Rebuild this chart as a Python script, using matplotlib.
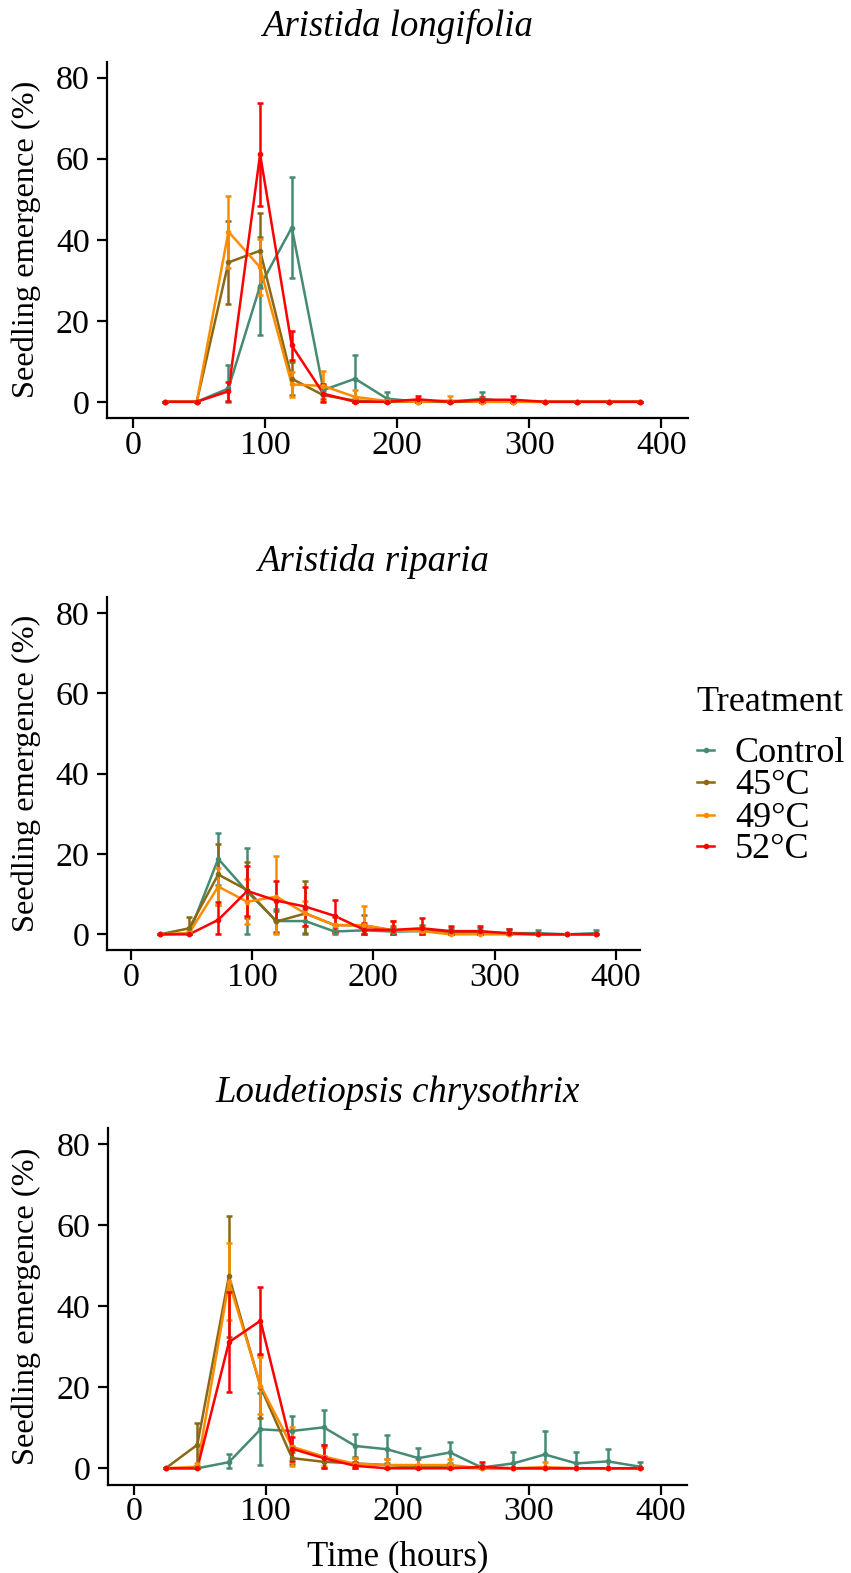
import matplotlib
matplotlib.use("Agg")
import matplotlib.pyplot as plt
from matplotlib.lines import Line2D

plt.rcParams['font.family'] = ['Liberation Serif', 'DejaVu Serif']

W, H = 851, 1573

hours = [24, 48, 72, 96, 120, 144, 168, 192, 216, 240, 264, 288, 312, 336, 360, 384]
treatments = ["Control", "45°C", "49°C", "52°C"]
colors = ["#458B74", "#8B6914", "#FF8C00", "#FF0000"]
titles = ["Aristida longifolia", "Aristida riparia", "Loudetiopsis chrysothrix"]

# Aristida longifolia
al_ctrl_m = [0, 0, 3.3, 28.6, 43.0, 2.9, 5.7, 0.8, 0, 0, 0.7, 0, 0, 0, 0, 0]
al_ctrl_se = [0, 0, 5.7, 12.0, 12.4, 1.0, 5.9, 1.5, 0, 0, 1.8, 0, 0, 0, 0, 0]
al_45_m = [0, 0, 34.4, 37.3, 5.7, 1.6, 0.3, 0, 0, 0, 0, 0, 0, 0, 0, 0]
al_45_se = [0, 0, 10.3, 9.2, 4.1, 1.0, 0.5, 0, 0, 0, 0, 0, 0, 0, 0, 0]
al_49_m = [0, 0, 42.0, 33.2, 4.3, 3.9, 1.2, 0.2, 0, 0.3, 0, 0, 0, 0, 0, 0]
al_49_se = [0, 0, 8.9, 6.9, 3.1, 3.7, 1.6, 0.4, 0, 1.2, 0, 0, 0, 0, 0, 0]
al_52_m = [0, 0, 2.6, 61.1, 13.9, 2.0, 0, 0, 0.6, 0, 0.5, 0.5, 0, 0, 0, 0]
al_52_se = [0, 0, 2.3, 12.7, 3.5, 2.3, 0, 0, 0.9, 0, 0.8, 1.0, 0, 0, 0, 0]

# Aristida riparia
ar_ctrl_m = [0, 0.2, 18.8, 10.6, 3.3, 3.3, 0.7, 1.0, 0.7, 0.8, 0.5, 0.5, 0.3, 0.3, 0, 0.3]
ar_ctrl_se = [0, 0.3, 6.5, 11.0, 3.0, 3.0, 1.0, 1.0, 1.0, 1.5, 1.0, 1.0, 1.0, 0.9, 0, 0.9]
ar_45_m = [0, 1.5, 14.9, 11.0, 3.2, 5.2, 2.3, 2.2, 1.0, 1.0, 0.5, 0.3, 0.2, 0, 0, 0]
ar_45_se = [0, 2.7, 7.5, 7.0, 2.5, 8.0, 2.0, 2.6, 1.0, 1.0, 0.5, 0.5, 0.3, 0, 0, 0]
ar_49_m = [0, 0.3, 11.9, 8.1, 9.4, 5.2, 2.3, 2.3, 1.0, 0.8, 0, 0, 0, 0, 0, 0]
ar_49_se = [0, 0.5, 4.5, 5.6, 10.0, 3.0, 2.0, 4.7, 2.3, 1.0, 0, 0, 0, 0, 0, 0]
ar_52_m = [0, 0, 3.6, 10.8, 8.4, 6.9, 4.6, 1.2, 1.1, 1.5, 0.8, 0.8, 0.25, 0, 0, 0]
ar_52_se = [0, 0, 4.5, 6.2, 4.9, 4.9, 4.0, 1.5, 2.1, 2.5, 1.4, 1.4, 1.0, 0, 0, 0]

# Loudetiopsis chrysothrix
lc_ctrl_m = [0, 0, 1.5, 9.6, 9.2, 10.1, 5.5, 4.7, 2.5, 3.9, 0.2, 1.2, 3.4, 1.2, 1.7, 0.4]
lc_ctrl_se = [0, 0, 2.0, 8.9, 3.8, 4.3, 2.9, 3.5, 2.4, 2.7, 0.5, 2.7, 5.8, 2.7, 3.0, 1.2]
lc_45_m = [0, 5.8, 47.4, 20.1, 2.5, 1.6, 1.2, 0.8, 0.4, 0.2, 0, 0, 0, 0, 0, 0]
lc_45_se = [0, 5.3, 14.9, 7.8, 1.5, 1.5, 1.5, 1.5, 0.5, 0.5, 0, 0, 0, 0, 0, 0]
lc_49_m = [0, 0.4, 46.0, 20.4, 5.3, 2.9, 1.1, 0.8, 0.8, 0.8, 0, 0, 0.3, 0, 0, 0]
lc_49_se = [0, 1.0, 9.5, 7.0, 4.8, 2.4, 1.5, 1.5, 1.5, 1.5, 0, 0, 1.2, 0, 0, 0]
lc_52_m = [0, 0, 31.1, 36.4, 4.8, 2.5, 0.6, 0, 0, 0, 0.3, 0, 0, 0, 0, 0]
lc_52_se = [0, 0, 12.4, 8.2, 3.0, 3.2, 1.0, 0, 0, 0, 1.3, 0, 0, 0, 0, 0]

panels = [
    [(al_ctrl_m, al_ctrl_se), (al_45_m, al_45_se), (al_49_m, al_49_se), (al_52_m, al_52_se)],
    [(ar_ctrl_m, ar_ctrl_se), (ar_45_m, ar_45_se), (ar_49_m, ar_49_se), (ar_52_m, ar_52_se)],
    [(lc_ctrl_m, lc_ctrl_se), (lc_45_m, lc_45_se), (lc_49_m, lc_49_se), (lc_52_m, lc_52_se)],
]

# pixel rects: left, right, top, bottom
rects = [(107, 687.7, 61.5, 418), (106.7, 640, 597, 950.4), (107.8, 687, 1127.7, 1484.5)]

fig = plt.figure(figsize=(W / 100, H / 100), dpi=100)
TICK_FS = 24.5
LAB_FS = 23.3
TITLE_FS = 26.5
LEG_FS = 26

for i, (rect, series) in enumerate(zip(rects, panels)):
    l, r, t, b = rect
    ax = fig.add_axes([l / W, 1 - b / H, (r - l) / W, (b - t) / H])
    for (m, se), col in zip(series, colors):
        lower = [min(s, v) for s, v in zip(se, m)]
        ax.plot(hours, m, color=col, lw=1.8, zorder=2, solid_joinstyle='round')
        ax.errorbar(hours, m, yerr=[lower, se], fmt='none', ecolor=col, elinewidth=1.8,
                    capsize=2.3, capthick=1.8, zorder=3)
        ax.plot(hours, m, 'o', color=col, ms=3, zorder=4)
    ax.set_xlim(-20, 420)
    ax.set_ylim(-4, 84)
    ax.set_xticks([0, 100, 200, 300, 400])
    ax.set_yticks([0, 20, 40, 60, 80])
    for s in ['top', 'right']:
        ax.spines[s].set_visible(False)
    for s in ['left', 'bottom']:
        ax.spines[s].set_linewidth(1.6)
    ax.tick_params(axis='both', length=7, width=1.6, labelsize=TICK_FS, colors='black')
    ax.tick_params(axis='x', pad=2)
    ax.tick_params(axis='y', pad=5.5)
    ax.set_ylabel("Seedling emergence (%)", fontsize=LAB_FS, va='center')
    ax.yaxis.set_label_coords((26 - l) / (r - l), 0.5)
    ax.set_title(titles[i], fontsize=TITLE_FS, style='italic', pad=18.5)
    if i == 2:
        ax.set_xlabel("Time (hours)", fontsize=25, va='baseline')
        ax.xaxis.set_label_coords(0.5, -(1565 - b) / (b - t))

# legend
fig.text(696.7 / W, 1 - 710.7 / H, "Treatment", fontsize=LEG_FS, ha='left', va='baseline')
base_y = [761.7, 794.0, 826.7, 858.0]
for name, col, by in zip(treatments, colors, base_y):
    yk = 1 - (by - 12) / H
    fig.add_artist(Line2D([696.7 / W, 714.3 / W], [yk, yk], color=col, lw=1.8,
                          transform=fig.transFigure))
    fig.add_artist(Line2D([705.5 / W], [yk], color=col, marker='o', ms=3,
                          transform=fig.transFigure))
    fig.text(735 / W, 1 - by / H, name, fontsize=LEG_FS, ha='left', va='baseline')

fig.savefig("out.png", dpi=100)
